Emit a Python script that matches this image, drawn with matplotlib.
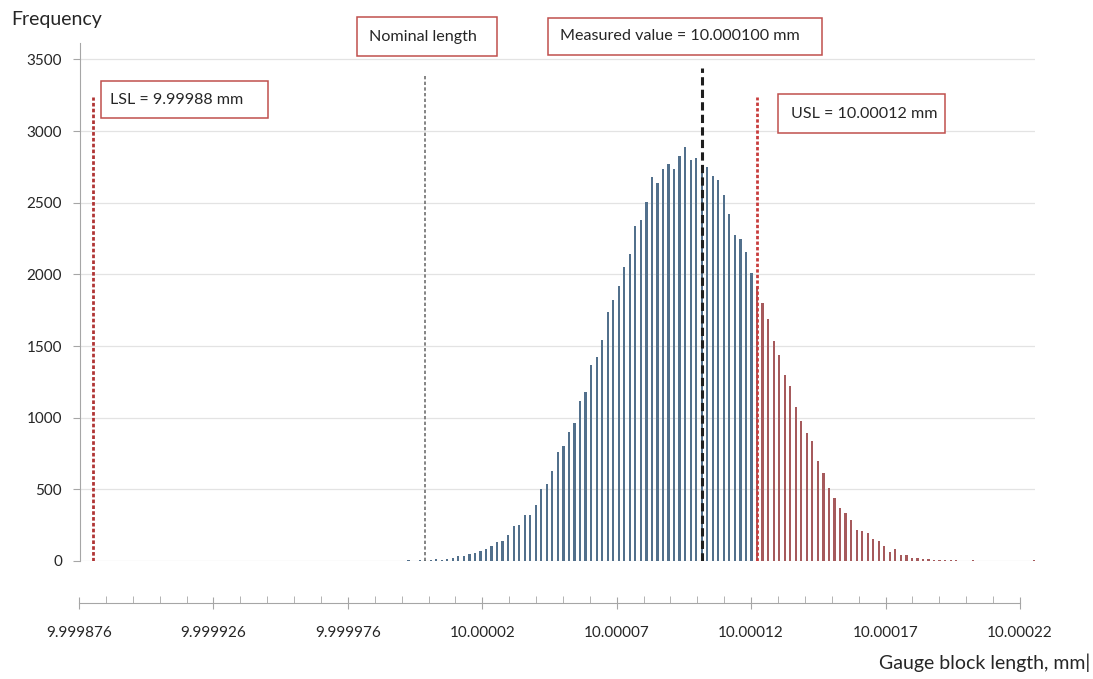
import numpy as np
import matplotlib.pyplot as plt
from matplotlib.patches import Rectangle

plt.rcParams['font.family'] = ['Lato', 'DejaVu Sans']

# ------------------------------------------------------------
#  Monte Carlo histogram of gauge block length (mm)
# ------------------------------------------------------------
BIN_START = 9.999992      # centre of first bin
BIN_WIDTH = 0.000002      # mm
COUNTS = [
    3, 4, 3, 5, 5,
    7, 12, 9, 12, 19, 35, 35, 47, 58, 70,
    82, 105, 135, 142, 182, 245, 252, 321, 321, 391,
    503, 536, 629, 764, 803, 903, 966, 1119, 1178, 1366,
    1427, 1539, 1735, 1819, 1917, 2052, 2143, 2336, 2378, 2504,
    2681, 2639, 2737, 2771, 2737, 2825, 2888, 2797, 2813, 2737,
    2751, 2690, 2657, 2557, 2422, 2273, 2247, 2157, 2010, 1912,
    1800, 1691, 1532, 1439, 1295, 1223, 1078, 980, 895, 840,
    697, 613, 508, 440, 368, 333, 286, 217, 210, 198,
    151, 142, 105, 65, 82, 42, 40, 23, 21, 16,
    12, 5, 5, 5, 5, 5, 3, 0, 4, 0,
    3, 0, 0, 0, 0, 0, 0, 0, 0, 4,
]

LSL = 9.99988
USL = 10.00012
NOMINAL = 10.0
MEASURED = 10.0001

Y_TICKS = [0, 500, 1000, 1500, 2000, 2500, 3000, 3500]
X_TICKS = [9.999876, 9.999926, 9.999976, 10.000026,
           10.000076, 10.000126, 10.000176, 10.000226]
X_TICK_LABELS = ["9.999876", "9.999926", "9.999976", "10.00002",
                 "10.00007", "10.00012", "10.00017", "10.00022"]

BLUE = "#52708c"
RED = "#a65a5c"
BOX_EDGE = "#c0504d"
TEXT = "#262626"

W, H = 1093, 679


def fx(px):
    return px / W


def fy(py):
    return 1 - py / H


fig = plt.figure(figsize=(W / 100, H / 100), dpi=100)

# ---- histogram panel ----
ax = fig.add_axes([fx(80), fy(561), (1035 - 80) / W, (561 - 43) / H])

centers = np.round(BIN_START + BIN_WIDTH * np.arange(len(COUNTS)), 7)
colors = [RED if c >= USL - 1e-9 else BLUE for c in centers]
ax.bar(centers, COUNTS, width=BIN_WIDTH * 0.4, color=colors, linewidth=0, zorder=2)

# spec limits, nominal and measured value
ax.plot([LSL, LSL], [0, 3240], color="#b03434", lw=2.0,
        linestyle=(0, (1.3, 0.8)), zorder=3)
ax.plot([USL, USL], [0, 3240], color="#c83c3c", lw=2.0,
        linestyle=(0, (1.2, 0.8)), zorder=3)
ax.plot([NOMINAL, NOMINAL], [0, 3390], color="#707070", lw=1.2,
        linestyle=(0, (2, 1.4)), zorder=3)
ax.plot([MEASURED, MEASURED], [0, 3440], color="#1e1e1e", lw=2.2,
        linestyle=(0, (2.7, 1.4)), zorder=3)

ax.set_xlim(9.9998752, 10.0002205)
ax.set_ylim(0, 3615)
ax.set_yticks(Y_TICKS)
ax.set_xticks([])
ax.grid(axis="y", color="#e3e3e3", lw=0.9)
ax.set_axisbelow(True)
for side in ("top", "right", "bottom"):
    ax.spines[side].set_visible(False)
ax.spines["left"].set_color("#a6a6a6")
ax.tick_params(axis="y", length=5, color="#a6a6a6", labelsize=11,
               labelcolor=TEXT, pad=8)

# ---- separate length axis underneath ----
axb = fig.add_axes([fx(79), fy(603), (1020 - 79) / W, 0.0001])
axb.patch.set_visible(False)
for side in ("top", "right", "left"):
    axb.spines[side].set_visible(False)
axb.spines["bottom"].set_color("#a6a6a6")
axb.set_xlim(X_TICKS[0], X_TICKS[-1])
axb.set_yticks([])
axb.set_xticks(X_TICKS)
axb.set_xticklabels(X_TICK_LABELS)
axb.set_xticks(np.linspace(X_TICKS[0], X_TICKS[-1], 36), minor=True)
axb.tick_params(axis="x", which="major", direction="inout", length=9,
                color="#a6a6a6", labelsize=11, labelcolor=TEXT, pad=12)
axb.tick_params(axis="x", which="minor", direction="in", length=5,
                color="#a6a6a6")

# ---- annotation boxes ----
def label_box(x0, y0, x1, y1, text, tx):
    fig.patches.append(Rectangle((fx(x0), fy(y1)), (x1 - x0) / W, (y1 - y0) / H,
                                 transform=fig.transFigure, facecolor="white",
                                 edgecolor=BOX_EDGE, lw=1.1, zorder=4))
    fig.text(fx(tx), fy((y0 + y1) / 2), text, ha="left", va="center",
             fontsize=11.6, color=TEXT, zorder=5)


label_box(101, 81, 268, 118, "LSL = 9.99988 mm", 110)
label_box(357, 17, 497, 56, "Nominal length", 369)
label_box(548, 18, 822, 55, "Measured value = 10.000100 mm", 560)
label_box(778, 94, 945, 133, "USL = 10.00012 mm", 791)

fig.text(fx(11), fy(20), "Frequency", ha="left", va="center",
         fontsize=14, color=TEXT)
fig.text(fx(1090), fy(663), "Gauge block length, mm|", ha="right", va="center",
         fontsize=14, color=TEXT)

fig.savefig("out.png", dpi=100)
